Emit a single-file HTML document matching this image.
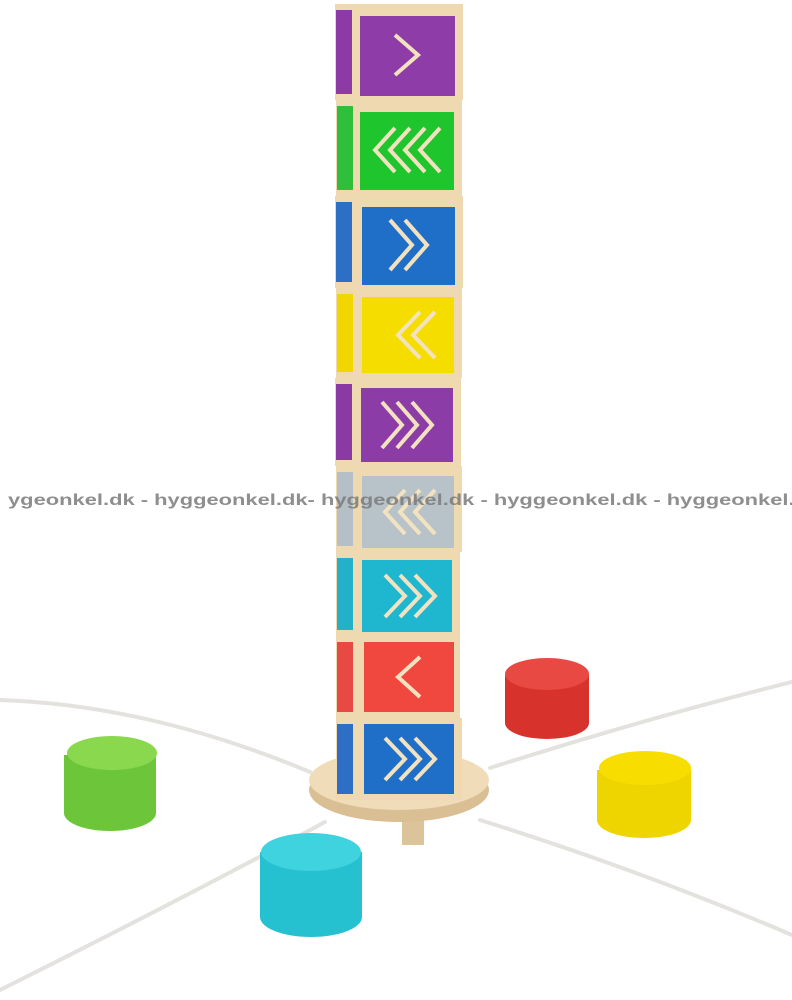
<!DOCTYPE html>
<html><head><meta charset="utf-8"><style>
html,body{margin:0;padding:0;background:#fff;width:792px;height:1000px;overflow:hidden}
svg{display:block}
</style></head><body>
<svg width="792" height="1000" viewBox="0 0 792 1000" xmlns="http://www.w3.org/2000/svg">
<g stroke="#e4e2de" stroke-width="4" fill="none" stroke-linecap="round">
<path d="M0 700 Q150 705 310 772"/>
<path d="M490 768 Q640 720 792 682"/>
<path d="M480 820 Q640 870 792 935"/>
<path d="M325 822 Q180 900 0 990"/>
</g>
<rect x="402" y="815" width="22" height="30" fill="#dcc49a"/>
<ellipse cx="399" cy="790" rx="90" ry="32" fill="#d9bf93"/>
<ellipse cx="399" cy="780" rx="90" ry="30" fill="#f0dcb8"/>
<g>
<rect x="335" y="4" width="128" height="96" fill="#efd9b0"/><rect x="336" y="10" width="16" height="84" fill="#8d3aa6"/><rect x="360" y="16" width="95" height="80" fill="#8e3da8"/>
<rect x="336" y="100" width="126" height="96" fill="#efd9b0"/><rect x="337" y="106" width="16" height="84" fill="#2fbf3a"/><rect x="360" y="112" width="94" height="78" fill="#1fc52d"/>
<rect x="335" y="196" width="128" height="92" fill="#efd9b0"/><rect x="336" y="202" width="16" height="80" fill="#2c6fc4"/><rect x="362" y="207" width="93" height="78" fill="#1f6fc8"/>
<rect x="336" y="288" width="126" height="90" fill="#efd9b0"/><rect x="337" y="294" width="16" height="78" fill="#f2d600"/><rect x="362" y="297" width="92" height="76" fill="#f5dd00"/>
<rect x="335" y="378" width="126" height="88" fill="#efd9b0"/><rect x="336" y="384" width="16" height="76" fill="#8b3aa4"/><rect x="361" y="388" width="92" height="74" fill="#8c3ca7"/>
<rect x="336" y="466" width="126" height="86" fill="#efd9b0"/><rect x="337" y="472" width="16" height="74" fill="#b4c0c6"/><rect x="362" y="476" width="92" height="72" fill="#b7c3c9"/>
<rect x="336" y="552" width="124" height="84" fill="#efd9b0"/><rect x="337" y="558" width="16" height="72" fill="#22b1c9"/><rect x="362" y="560" width="90" height="72" fill="#1fb6cf"/>
<rect x="336" y="636" width="124" height="82" fill="#efd9b0"/><rect x="337" y="642" width="16" height="70" fill="#e64a42"/><rect x="364" y="642" width="90" height="70" fill="#f0473f"/>
<rect x="336" y="718" width="126" height="82" fill="#efd9b0"/><rect x="337" y="724" width="16" height="70" fill="#2c6fc4"/><rect x="364" y="724" width="90" height="70" fill="#1f6fc8"/>
</g>
<g stroke="#f3e2c0" stroke-width="4" fill="none">
<path d="M395 35 L418 55 L395 75"/>
<path d="M395 128 L375 150 L395 172 M410 128 L390 150 L410 172 M425 128 L405 150 L425 172 M440 128 L420 150 L440 172"/>
<path d="M390 220 L412 245 L390 270 M405 220 L427 245 L405 270"/>
<path d="M420 312 L398 335 L420 358 M435 312 L413 335 L435 358"/>
<path d="M382 402 L402 425 L382 448 M397 402 L417 425 L397 448 M412 402 L432 425 L412 448"/>
<path d="M405 490 L385 512 L405 534 M420 490 L400 512 L420 534 M435 490 L415 512 L435 534"/>
<path d="M385 575 L405 596 L385 617 M400 575 L420 596 L400 617 M415 575 L435 596 L415 617"/>
<path d="M420 657 L398 677 L420 697"/>
<path d="M385 738 L405 759 L385 780 M400 738 L420 759 L400 780 M415 738 L435 759 L415 780"/>
</g>
<g>
<rect x="64" y="755" width="92" height="58" fill="#6dc63a"/><ellipse cx="110" cy="813" rx="46" ry="18" fill="#6dc63a"/><ellipse cx="112" cy="753" rx="45" ry="17" fill="#8ad84d"/>
<rect x="505" y="675" width="84" height="48" fill="#d8322d"/><ellipse cx="547" cy="723" rx="42" ry="16" fill="#d8322d"/><ellipse cx="547" cy="674" rx="42" ry="16" fill="#e84a43"/>
<rect x="597" y="770" width="94" height="50" fill="#eed500"/><ellipse cx="644" cy="820" rx="47" ry="18" fill="#eed500"/><ellipse cx="645" cy="768" rx="46" ry="17" fill="#f8de00"/>
<rect x="260" y="852" width="102" height="65" fill="#26c1d0"/><ellipse cx="311" cy="917" rx="51" ry="20" fill="#26c1d0"/><ellipse cx="311" cy="852" rx="50" ry="19" fill="#3fd3e0"/>
</g>
<text x="8" y="505" textLength="800" lengthAdjust="spacingAndGlyphs" font-family="Liberation Sans, sans-serif" font-weight="bold" font-size="16" fill="#7a7a7a" fill-opacity="0.85">ygeonkel.dk - hyggeonkel.dk- hyggeonkel.dk - hyggeonkel.dk - hyggeonkel.d</text>
</svg>
</body></html>
